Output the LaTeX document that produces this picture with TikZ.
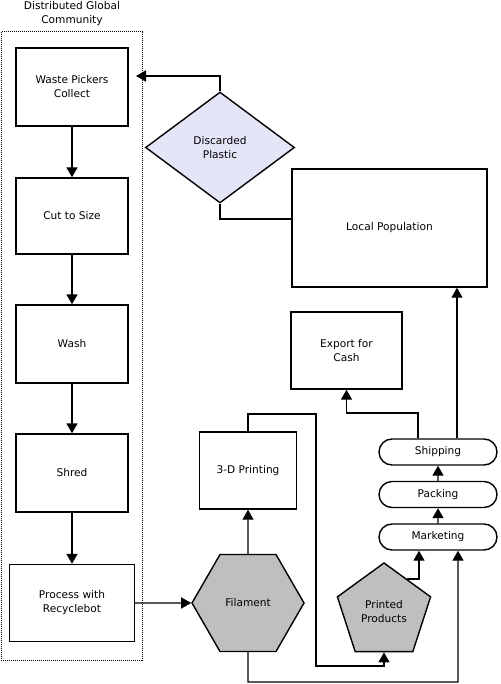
\documentclass[tikz,border=0pt]{standalone}
\usepackage{fontspec}
\setmainfont{DejaVu Sans}
\usetikzlibrary{arrows.meta,shapes.geometric,shapes.misc}
\definecolor{plasticfill}{RGB}{229,229,248}
\definecolor{productfill}{RGB}{191,191,191}
\newcommand{\ColX}{72}
\newcommand{\ChainX}{438}
\newcommand{\StepW}{112pt}
\newcommand{\StepH}{78pt}

\begin{document}
\begin{tikzpicture}[x=1pt,y=-1pt,
    every node/.style={font=\fontsize{10.6}{14}\selectfont, align=center},
    stepbox/.style={draw, line width=1.4pt, minimum width=\StepW, minimum height=\StepH, inner sep=0pt},
    plastic/.style={diamond, draw, line width=1.4pt, fill=plasticfill, minimum width=149pt, minimum height=111pt, inner sep=0pt},
    hexa/.style={regular polygon, regular polygon sides=6, draw, line width=1.4pt, fill=productfill, minimum size=112pt, inner sep=0pt},
    penta/.style={regular polygon, regular polygon sides=5, draw, line width=1.4pt, fill=productfill, minimum size=98pt, inner sep=0pt},
    task/.style={rounded rectangle, draw, line width=1.4pt, minimum width=118pt, minimum height=26pt, inner sep=0pt},
    flow/.style={line width=1.4pt, -{Triangle[width=11pt,length=10pt]}},
    link/.style={line width=1.4pt}]
    \useasboundingbox (0,0) rectangle (500,684);

    % recycling steps
    \draw[densely dotted, line width=1pt] (1,32) rectangle (142,660);
    \node (community) at (\ColX,14) {Distributed Global\\Community};
    \node[stepbox] (collect) at (\ColX,87) {Waste Pickers\\Collect};
    \node[stepbox, minimum height=76pt] (cut) at (\ColX,216) {Cut to Size};
    \node[stepbox] (wash) at (\ColX,344) {Wash};
    \node[stepbox] (shred) at (\ColX,473) {Shred};
    \node[stepbox, minimum width=125pt, minimum height=77pt] (recycle) at (\ColX,603) {Process with\\Recyclebot};

    % products and market
    \node[stepbox, minimum width=97pt, minimum height=77pt] (printing) at (248,470.5) {3-D Printing};
    \node[stepbox, minimum width=111pt, minimum height=77pt] (export) at (346.5,350.5) {Export for\\Cash};
    \node[stepbox, minimum width=195pt, minimum height=118pt] (population) at (389.5,228) {Local Population};
    \node[plastic] (discarded) at (220,147.5) {Discarded\\Plastic};
    \node[hexa] (filament) at (248,603) {Filament};
    \node[penta] (products) at (384,612) {Printed\\Products};
    \node[task] (marketing) at (\ChainX,537) {Marketing};
    \node[task] (packing) at (\ChainX,494.5) {Packing};
    \node[task] (shipping) at (\ChainX,452) {Shipping};

    \coordinate (loopTop) at (316,414);
    \coordinate (loopBot) at (316,666);
    \coordinate (baseLine) at (248,682);
    \coordinate (exportBend) at (418,413);
    \coordinate (groupEdge) at (136,76);

    \draw[flow] (collect) -- (cut);
    \draw[flow] (cut) -- (wash);
    \draw[flow] (wash) -- (shred);
    \draw[flow] (shred) -- (recycle);
    \draw[flow] (recycle) -- (filament);
    \draw[flow] (filament) -- (printing);
    \draw[flow] (printing.north) |- (loopTop) -- (loopBot) -| (products.south);
    \draw[flow] (products.55) -| ([xshift=-19pt]marketing.south);
    \draw[flow] (filament.south) -- (baseLine) -| ([xshift=20pt]marketing.south);
    \draw[flow] (marketing) -- (packing);
    \draw[flow] (packing) -- (shipping);
    \draw[flow] ([xshift=-20pt]shipping.north) -- (exportBend) -| (export.south);
    \draw[flow] ([xshift=19pt]shipping.north) -- ([xshift=19pt]shipping.north |- population.south);
    \draw[link] ([yshift=9pt]population.west) -| (discarded.south);
    \draw[flow] (discarded.north) |- (groupEdge);
\end{tikzpicture}
\end{document}
